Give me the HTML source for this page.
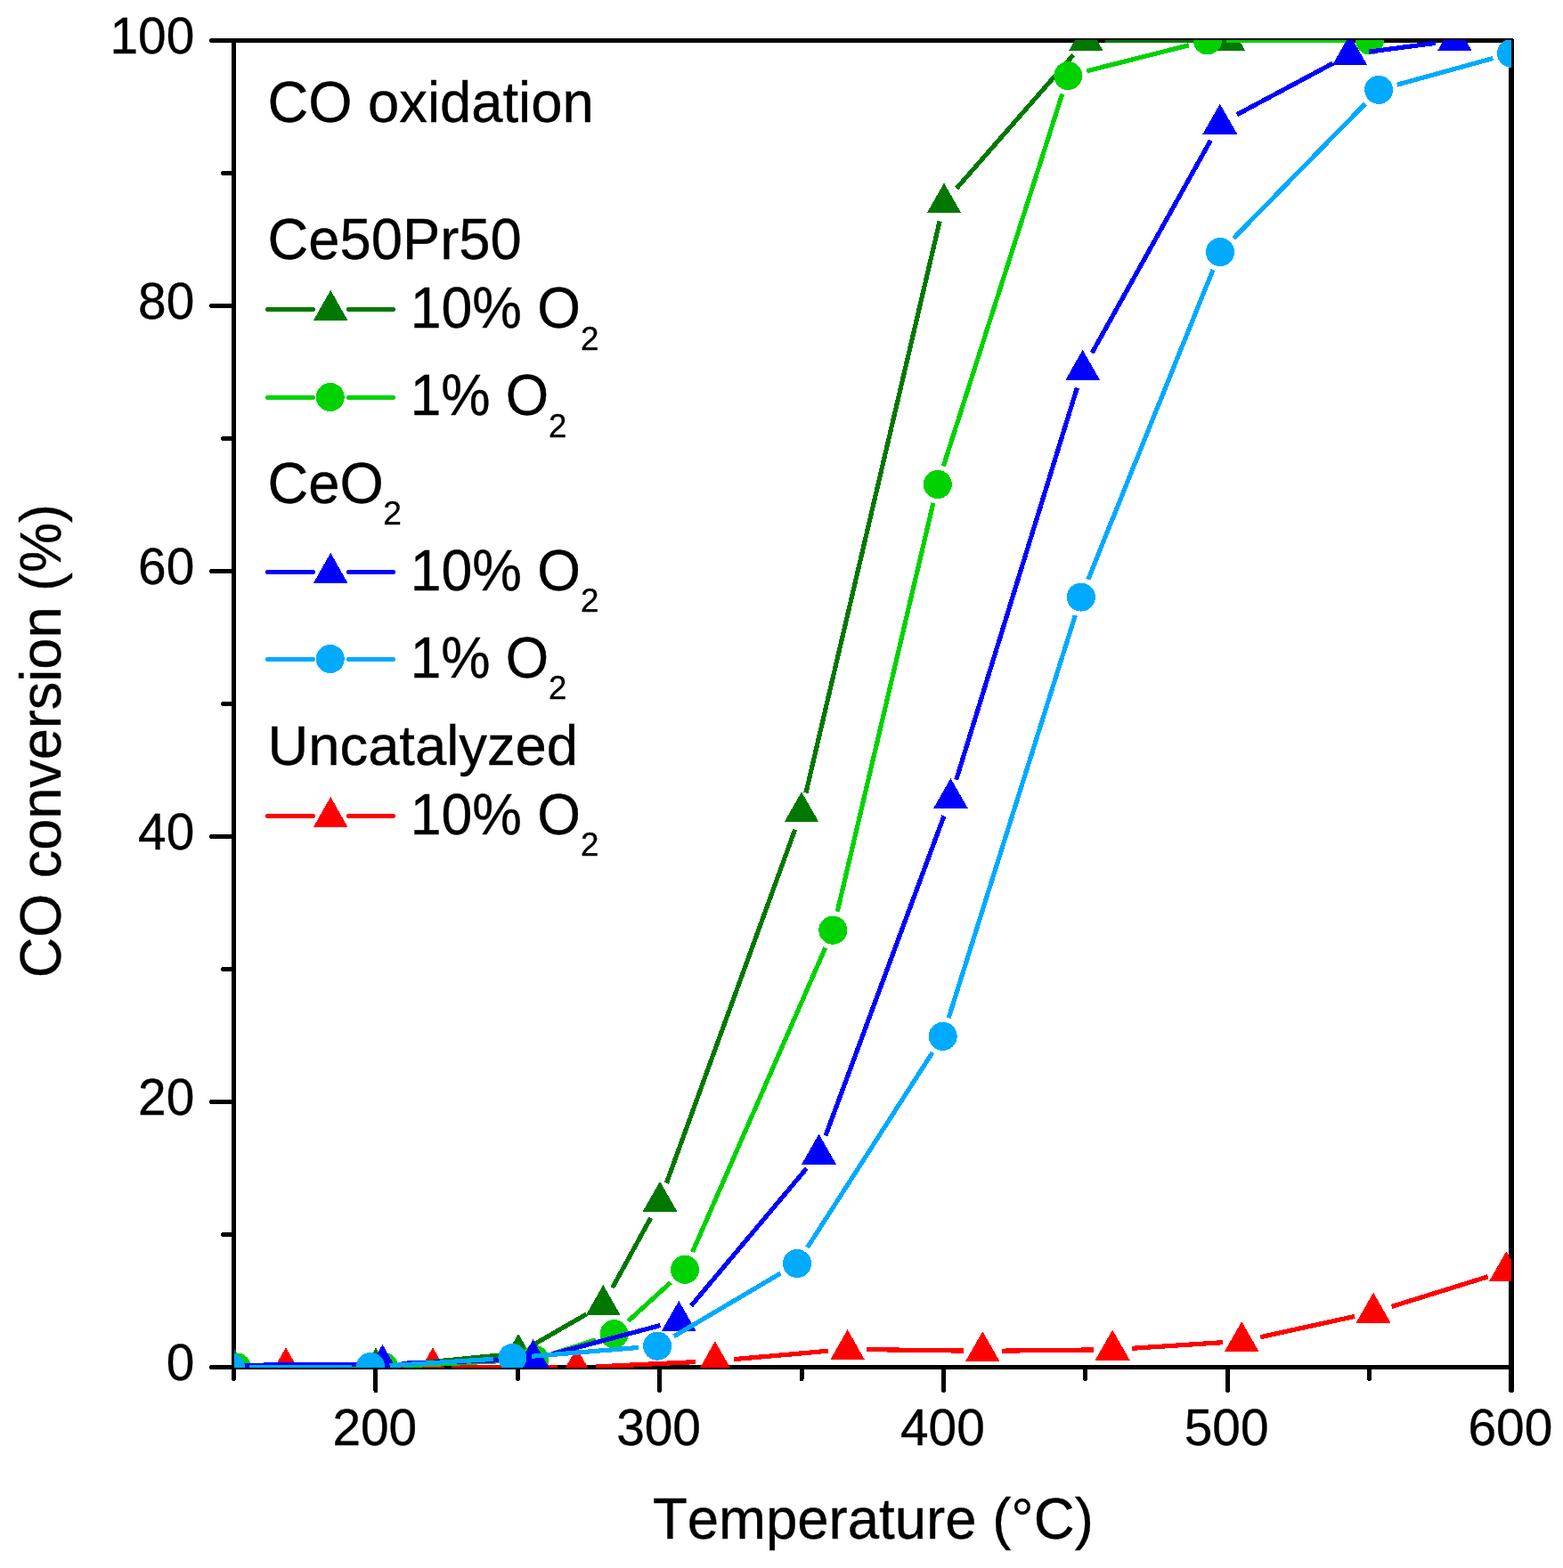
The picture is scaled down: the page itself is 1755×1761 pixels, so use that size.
<!DOCTYPE html>
<html lang="en"><head><meta charset="utf-8"><title>CO oxidation</title>
<style>html,body{margin:0;padding:0;background:#fff;overflow:hidden}svg{display:block}text{font-family:"Liberation Sans",sans-serif;fill:#000;font-kerning:none;stroke:#000;stroke-width:.35px}</style></head><body>
<svg width="1755" height="1761" viewBox="0 0 1755 1761">
<rect width="1755" height="1761" fill="#fff"/>
<defs><clipPath id="plot"><rect x="263" y="45" width="1434" height="1491"/></clipPath></defs>
<g fill="#000" shape-rendering="crispEdges">
<rect x="260" y="43" width="1439" height="5"/>
<rect x="260" y="1533" width="1440" height="5"/>
<rect x="260" y="43" width="5" height="1495"/>
<rect x="1694" y="44" width="6" height="1494"/>
</g>
<g fill="none" stroke="#000" stroke-width="5" stroke-linecap="round" shape-rendering="crispEdges">
<path d="M237.5,1535.5H262M250.5,1386.5H262M237.5,1237.5H262M250.5,1088.5H262M237.5,939.5H262M250.5,790.5H262M237.5,641.5H262M250.5,492.5H262M237.5,343.5H262M250.5,194.5H262M237.5,45.5H262M262.5,1536V1548.5M421.89,1536V1561.5M581.28,1536V1548.5M740.67,1536V1561.5M900.06,1536V1548.5M1059.45,1536V1561.5M1218.83,1536V1548.5M1378.22,1536V1561.5M1537.61,1536V1548.5"/>
<path d="M1697,1536V1561" stroke-width="6"/>
</g>
<g clip-path="url(#plot)" shape-rendering="crispEdges">
<g fill="none" stroke="#FF0000">
<path d="M342.5,1535.5L464.5,1535.5" stroke-width="5"/>
<path d="M507.5,1535.57L626,1535.93" stroke-width="5"/>
<path d="M668.98,1534.96L781.42,1529.54" stroke-width="5.2"/>
<path d="M824.32,1526.6L930.18,1517.2" stroke-width="5.2"/>
<path d="M973.1,1515.6L1081.8,1517.1" stroke-width="5.2"/>
<path d="M1124.8,1517.15L1227.7,1515.95" stroke-width="5.2"/>
<path d="M1270.65,1514.31L1372.75,1507.69" stroke-width="5.2"/>
<path d="M1415.2,1501.69L1521.1,1478.41" stroke-width="5.2"/>
<path d="M1562.63,1467.42L1670.77,1433.78" stroke-width="5.2"/>
</g>
<path d="M321,1513.3L340.4,1547.3L301.6,1547.3ZM486,1513.3L505.4,1547.3L466.6,1547.3ZM647.5,1513.8L666.9,1547.8L628.1,1547.8ZM802.9,1506.3L822.3,1540.3L783.5,1540.3ZM951.6,1493.1L971,1527.1L932.2,1527.1ZM1103.3,1495.2L1122.7,1529.2L1083.9,1529.2ZM1249.2,1493.5L1268.6,1527.5L1229.8,1527.5ZM1394.2,1484.1L1413.6,1518.1L1374.8,1518.1ZM1542.1,1451.6L1561.5,1485.6L1522.7,1485.6ZM1691.3,1405.2L1710.7,1439.2L1671.9,1439.2Z" fill="#FF0000"/>
<g fill="none" stroke="#007800">
<path d="M284,1535.5L400.5,1535.5" stroke-width="5"/>
<path d="M443.4,1533.43L560.6,1522.07" stroke-width="5.2"/>
<path d="M600.63,1509.27L658.67,1475.83" stroke-width="5.2"/>
<path d="M687.64,1446.25L730.66,1367.85" stroke-width="5.2"/>
<path d="M748.34,1328.79L892.66,931.71" stroke-width="5.2"/>
<path d="M904.9,890.57L1055.1,248.53" stroke-width="5.2"/>
<path d="M1074.16,211.42L1205.24,61.68" stroke-width="5.2"/>
<path d="M1240.9,45.5L1357.5,45.5" stroke-width="5"/>
</g>
<path d="M262.5,1513.3L281.9,1547.3L243.1,1547.3ZM422,1513.3L441.4,1547.3L402.6,1547.3ZM582,1497.8L601.4,1531.8L562.6,1531.8ZM677.3,1442.9L696.7,1476.9L657.9,1476.9ZM741,1326.8L760.4,1360.8L721.6,1360.8ZM900,889.3L919.4,923.3L880.6,923.3ZM1060,205.4L1079.4,239.4L1040.6,239.4ZM1219.4,23.3L1238.8,57.3L1200,57.3ZM1379,23.3L1398.4,57.3L1359.6,57.3Z" fill="#007800"/>
<g fill="none" stroke="#00D200">
<path d="M287.5,1535.43L409.5,1535.07" stroke-width="5"/>
<path d="M452.47,1533.96L579.03,1527.84" stroke-width="5.2"/>
<path d="M620.97,1520.22L669.03,1504.78" stroke-width="5.2"/>
<path d="M705.4,1483.72L753.1,1440.28" stroke-width="5.2"/>
<path d="M777.6,1406.09L926.7,1064.41" stroke-width="5.2"/>
<path d="M940.21,1023.77L1047.89,564.93" stroke-width="5.2"/>
<path d="M1059.34,523.52L1192.76,105.58" stroke-width="5.2"/>
<path d="M1220.14,79.83L1334.96,50.77" stroke-width="5.2"/>
<path d="M1377.3,45.5L1516.5,45.5" stroke-width="5"/>
</g>
<g fill="#00D200"><circle cx="266" cy="1535.5" r="16"/><circle cx="431" cy="1535" r="16"/><circle cx="600.5" cy="1526.8" r="16"/><circle cx="689.5" cy="1498.2" r="16"/><circle cx="769" cy="1425.8" r="16"/><circle cx="935.3" cy="1044.7" r="16"/><circle cx="1052.8" cy="544" r="16"/><circle cx="1199.3" cy="85.1" r="16"/><circle cx="1355.8" cy="45.5" r="16"/><circle cx="1538" cy="45.5" r="16"/></g>
<g fill="none" stroke="#0000FF">
<path d="M251.5,1533.34L408,1532.16" stroke-width="5"/>
<path d="M450.99,1531.3L577.01,1527.2" stroke-width="5.2"/>
<path d="M619.28,1520.98L741.42,1488.52" stroke-width="5.2"/>
<path d="M776.03,1466.54L905.67,1312.16" stroke-width="5.2"/>
<path d="M926.96,1275.54L1059.94,916.36" stroke-width="5.2"/>
<path d="M1073.73,875.65L1209.37,435.65" stroke-width="5.2"/>
<path d="M1226.18,396.32L1359.32,157.68" stroke-width="5.2"/>
<path d="M1388.76,128.77L1496.64,71.13" stroke-width="5.2"/>
<path d="M1536.92,58.2L1612.08,48.3" stroke-width="5.2"/>
</g>
<path d="M230,1511.3L249.4,1545.3L210.6,1545.3ZM429.5,1509.8L448.9,1543.8L410.1,1543.8ZM598.5,1504.3L617.9,1538.3L579.1,1538.3ZM762.2,1460.8L781.6,1494.8L742.8,1494.8ZM919.5,1273.5L938.9,1307.5L900.1,1307.5ZM1067.4,874L1086.8,908L1048,908ZM1215.7,392.9L1235.1,426.9L1196.3,426.9ZM1369.8,116.7L1389.2,150.7L1350.4,150.7ZM1515.6,38.8L1535,72.8L1496.2,72.8ZM1633.4,23.3L1652.8,57.3L1614,57.3Z" fill="#0000FF"/>
<g fill="none" stroke="#00AAFF">
<path d="M280.4,1535.26L394.6,1535.04" stroke-width="5"/>
<path d="M437.56,1533.65L553.94,1526.35" stroke-width="5.2"/>
<path d="M596.83,1523.25L716.77,1513.45" stroke-width="5.2"/>
<path d="M756.71,1500.77L876.49,1430.03" stroke-width="5.2"/>
<path d="M906.61,1401L1047.09,1181.9" stroke-width="5.2"/>
<path d="M1065.15,1143.29L1207.35,691.11" stroke-width="5.2"/>
<path d="M1221.84,650.66L1361.96,303.04" stroke-width="5.2"/>
<path d="M1385.03,267.73L1533.07,116.27" stroke-width="5.2"/>
<path d="M1568.82,95.18L1676.28,65.52" stroke-width="5.2"/>
</g>
<g fill="#00AAFF"><circle cx="258.9" cy="1535.3" r="16"/><circle cx="416.1" cy="1535" r="16"/><circle cx="575.4" cy="1525" r="16"/><circle cx="738.2" cy="1511.7" r="16"/><circle cx="895" cy="1419.1" r="16"/><circle cx="1058.7" cy="1163.8" r="16"/><circle cx="1213.8" cy="670.6" r="16"/><circle cx="1370" cy="283.1" r="16"/><circle cx="1548.1" cy="100.9" r="16"/><circle cx="1697" cy="59.8" r="16"/></g>
</g>
<text transform="translate(218.3,1549.9)" font-size="56.8px" text-anchor="end">0</text>
<text transform="translate(218.3,1251.9)" font-size="56.8px" text-anchor="end">20</text>
<text transform="translate(218.3,953.9)" font-size="56.8px" text-anchor="end">40</text>
<text transform="translate(218.3,655.9)" font-size="56.8px" text-anchor="end">60</text>
<text transform="translate(218.3,357.9)" font-size="56.8px" text-anchor="end">80</text>
<text transform="translate(218.3,59.9)" font-size="56.8px" text-anchor="end">100</text>
<text transform="translate(420.79,1623.4)" font-size="56.8px" text-anchor="middle">200</text>
<text transform="translate(739.57,1623.4)" font-size="56.8px" text-anchor="middle">300</text>
<text transform="translate(1058.35,1623.4)" font-size="56.8px" text-anchor="middle">400</text>
<text transform="translate(1377.12,1623.4)" font-size="56.8px" text-anchor="middle">500</text>
<text transform="translate(1695.9,1623.4)" font-size="56.8px" text-anchor="middle">600</text>
<text transform="translate(732.9,1727.6) scale(1.0030,1.0150)" font-size="63.35px">Temperature (°C)</text>
<text transform="translate(68,1098.3) rotate(-90) scale(0.9947,1.0150)" font-size="63.35px">CO conversion (%)</text>
<text transform="translate(300.5,136.5) scale(1.0000,1.0100)" font-size="63.35px">CO oxidation</text>
<text transform="translate(300.5,290.8) scale(1.0000,1.0150)" font-size="63.35px">Ce50Pr50</text>
<text transform="translate(460.7,368.3) scale(0.9880,1.0150)" font-size="63.35px">10% O<tspan x="193.61" y="23.94" font-size="37.18px">2</tspan></text>
<text transform="translate(460.7,466.3) scale(0.9820,1.0150)" font-size="63.35px">1% O<tspan x="158.23" y="23.94" font-size="37.18px">2</tspan></text>
<text transform="translate(300.5,564.5) scale(1.0000,1.0150)" font-size="63.35px">CeO<tspan x="129.78" y="23.94" font-size="37.18px">2</tspan></text>
<text transform="translate(460.7,663) scale(0.9880,1.0150)" font-size="63.35px">10% O<tspan x="193.61" y="23.94" font-size="37.18px">2</tspan></text>
<text transform="translate(460.7,761.1) scale(0.9820,1.0150)" font-size="63.35px">1% O<tspan x="158.23" y="23.94" font-size="37.18px">2</tspan></text>
<text transform="translate(300.5,859.3)" font-size="63.35px">Uncatalyzed</text>
<text transform="translate(460.7,936.7) scale(0.9880,1.0150)" font-size="63.35px">10% O<tspan x="193.61" y="23.94" font-size="37.18px">2</tspan></text>
<g shape-rendering="crispEdges">
<path d="M300.5,347.5H351.5M391.5,347.5H441.5" stroke="#007800" stroke-width="5" stroke-linecap="round" fill="none"/>
<path d="M371.2,325.8L390.6,360.1L351.8,360.1Z" fill="#007800"/>
<path d="M300.5,446.5H351.5M391.5,446.5H441.5" stroke="#00D200" stroke-width="5" stroke-linecap="round" fill="none"/>
<circle cx="370.7" cy="446" r="16" fill="#00D200"/>
<path d="M300.5,642.5H351.5M391.5,642.5H441.5" stroke="#0000FF" stroke-width="5" stroke-linecap="round" fill="none"/>
<path d="M371.2,620.8L390.6,655.1L351.8,655.1Z" fill="#0000FF"/>
<path d="M300.5,740.5H351.5M391.5,740.5H441.5" stroke="#00AAFF" stroke-width="5" stroke-linecap="round" fill="none"/>
<circle cx="370.7" cy="740" r="16" fill="#00AAFF"/>
<path d="M300.5,916.5H351.5M391.5,916.5H441.5" stroke="#FF0000" stroke-width="5" stroke-linecap="round" fill="none"/>
<path d="M371.2,894.8L390.6,929.1L351.8,929.1Z" fill="#FF0000"/>
</g>
</svg></body></html>
